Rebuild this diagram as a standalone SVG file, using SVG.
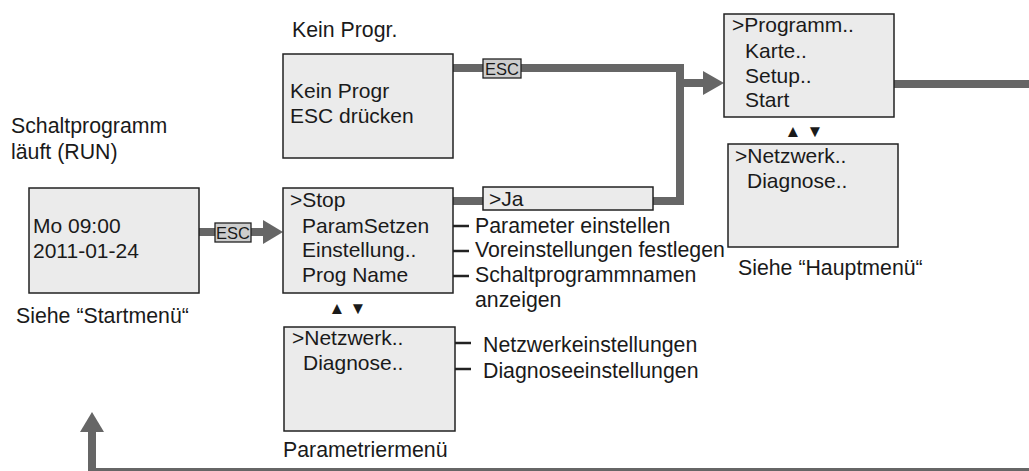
<svg xmlns="http://www.w3.org/2000/svg" width="1029" height="471" viewBox="0 0 1029 471">
<style>
text{font-family:"Liberation Sans",Arial,sans-serif;fill:#1a1a1a}
.t{font-size:21px}
.l{font-size:21.3px}
.box{fill:#ebebeb;stroke:#222;stroke-width:1.5}
.esc{fill:#cdcdcd;stroke:#222;stroke-width:1.3}
.et{font-size:16.5px}
.conn{fill:none;stroke:#666;stroke-width:8;stroke-linejoin:miter}
.ah{fill:#666}
.tick{stroke:#222;stroke-width:2.5}
.tri{font-size:17px}
</style>
<g id="connectors">
<path class="conn" d="M199 232 H265"/>
<polygon class="ah" points="263,220 283,232 263,244"/>
<path class="conn" d="M453 68 H680 V201 H653"/>
<path class="conn" d="M453 201 H483"/>
<path class="conn" d="M680 83 H705"/>
<polygon class="ah" points="703,71 724,83 703,95"/>
<path class="conn" d="M894 84 H1040 V472 H92 V430"/>
<polygon class="ah" points="80,432 92,412 104,432"/>
<rect class="esc" x="215" y="223" width="36" height="19"/>
<text class="et" x="233" y="238.5" text-anchor="middle">ESC</text>
<rect class="esc" x="483" y="59" width="38" height="19"/>
<text class="et" x="502" y="74.5" text-anchor="middle">ESC</text>
<line class="tick" x1="453" y1="226" x2="469" y2="226"/>
<line class="tick" x1="453" y1="251" x2="469" y2="251"/>
<line class="tick" x1="453" y1="276" x2="469" y2="276"/>
<line class="tick" x1="455" y1="343" x2="471" y2="343"/>
<line class="tick" x1="455" y1="369" x2="471" y2="369"/>
</g>
<g id="start">
<text class="l" x="11" y="133">Schaltprogramm</text>
<text class="l" x="11" y="159">läuft (RUN)</text>
<rect class="box" x="29" y="188" width="170" height="105"/>
<text class="t" x="33" y="233">Mo 09:00</text>
<text class="t" x="33" y="258">2011-01-24</text>
<text class="l" x="16" y="323">Siehe “Startmenü“</text>
</g>
<g id="keinprogr">
<text class="l" x="292" y="37">Kein Progr.</text>
<rect class="box" x="283" y="54" width="170" height="104"/>
<text class="t" x="290" y="98">Kein Progr</text>
<text class="t" x="290" y="123">ESC drücken</text>
</g>
<g id="stop">
<rect class="box" x="283" y="188" width="170" height="105"/>
<text class="t" x="290" y="207">&gt;Stop</text>
<text class="t" x="302" y="233">ParamSetzen</text>
<text class="t" x="302" y="257">Einstellung..</text>
<text class="t" x="302" y="282">Prog Name</text>
<text class="tri" x="337" y="314" text-anchor="middle">▲</text>
<text class="tri" x="358" y="314" text-anchor="middle">▼</text>
<text class="l" x="475" y="233">Parameter einstellen</text>
<text class="l" x="475" y="257">Voreinstellungen festlegen</text>
<text class="l" x="475" y="282">Schaltprogrammnamen</text>
<text class="l" x="475" y="307">anzeigen</text>
</g>
<g id="ja">
<rect class="box" x="483" y="187" width="170" height="23"/>
<text class="t" x="489" y="206">&gt;Ja</text>
</g>
<g id="param">
<rect class="box" x="284" y="327" width="171" height="104"/>
<text class="t" x="292" y="345">&gt;Netzwerk..</text>
<text class="t" x="303" y="370">Diagnose..</text>
<text class="l" x="483" y="352">Netzwerkeinstellungen</text>
<text class="l" x="483" y="378">Diagnoseeinstellungen</text>
<text class="l" x="283" y="457">Parametriermenü</text>
</g>
<g id="haupt">
<rect class="box" x="724" y="14" width="170" height="103"/>
<text class="t" x="732" y="32">&gt;Programm..</text>
<text class="t" x="745" y="58">Karte..</text>
<text class="t" x="745" y="83">Setup..</text>
<text class="t" x="745" y="107">Start</text>
<text class="tri" x="793" y="137" text-anchor="middle">▲</text>
<text class="tri" x="815" y="137" text-anchor="middle">▼</text>
</g>
<g id="haupt2">
<rect class="box" x="728" y="144" width="170" height="103"/>
<text class="t" x="735" y="163">&gt;Netzwerk..</text>
<text class="t" x="747" y="188">Diagnose..</text>
<text class="l" x="738" y="275">Siehe “Hauptmenü“</text>
</g>
</svg>
